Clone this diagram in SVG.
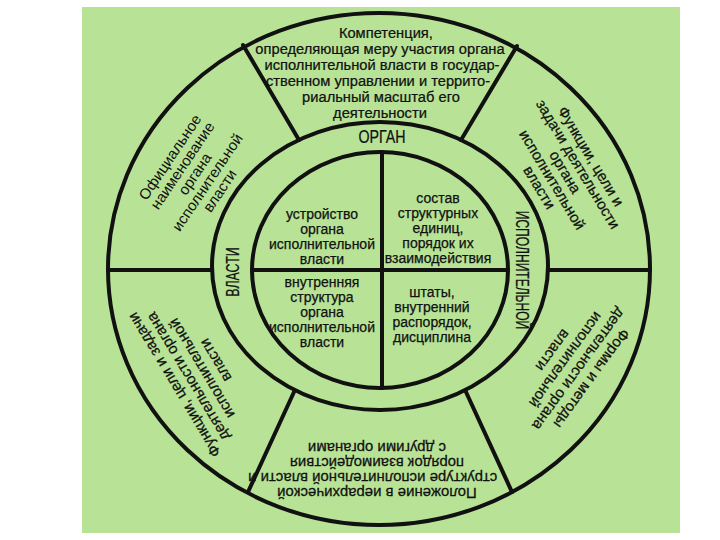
<svg xmlns="http://www.w3.org/2000/svg" width="720" height="540" viewBox="0 0 720 540">
<style>
.ln{fill:none;stroke:#111;stroke-width:4;stroke-linecap:round}
.n{font-family:'Liberation Sans',Arial,sans-serif;fill:#111;text-anchor:middle;stroke:#111;stroke-width:0.25}
.r{font-family:'Liberation Sans',Arial,sans-serif;fill:#111;text-anchor:middle}
</style>
<rect x="0" y="0" width="720" height="540" fill="#ffffff"/>
<rect x="82" y="7" width="598" height="526" fill="#b8e396"/>
<g id="rings">
<ellipse class="ln" cx="379" cy="269" rx="271" ry="256"/>
<ellipse class="ln" cx="380" cy="266" rx="168" ry="144"/>
<ellipse class="ln" cx="380" cy="270" rx="128" ry="118"/>
</g>
<g id="connectors">
<line class="ln" x1="243" y1="45" x2="299" y2="140"/>
<line class="ln" x1="517" y1="46" x2="461" y2="140"/>
<line class="ln" x1="108" y1="270" x2="212" y2="270"/>
<line class="ln" x1="548" y1="270" x2="650" y2="270"/>
<line class="ln" x1="294" y1="392" x2="248" y2="492"/>
<line class="ln" x1="466" y1="392" x2="512" y2="492"/>
<line class="ln" x1="382" y1="152" x2="382" y2="388"/>
<line class="ln" x1="252" y1="270" x2="508" y2="270"/>
</g>
<g id="competence" class="n" font-size="15" transform="translate(380,0) scale(0.98,1)">
<text x="6" y="38">Компетенция,</text>
<text x="0" y="54">определяющая меру участия органа</text>
<text x="2" y="70">исполнительной власти в государ-</text>
<text x="-2" y="86">ственном управлении и террито-</text>
<text x="1" y="102">риальный масштаб его</text>
<text x="0" y="118">деятельности</text>
</g>
<g id="official-name" class="r" font-size="15" transform="translate(195,174) rotate(-56)">
<text x="0" y="-25">Официальное</text>
<text x="0" y="-10">наименование</text>
<text x="0" y="5">органа</text>
<text x="0" y="20">исполнительной</text>
<text x="0" y="35">власти</text>
</g>
<g id="functions-top" class="n" font-size="15" transform="translate(565,172) rotate(59)">
<text x="0" y="-25">Функции, цели и</text>
<text x="0" y="-10">задачи деятельности</text>
<text x="0" y="5">органа</text>
<text x="0" y="20">исполнительной</text>
<text x="0" y="35">власти</text>
</g>
<g id="functions-bottom" class="n" font-size="15" transform="translate(194,373) rotate(-121)">
<text x="0" y="-18">Функции, цели и задачи</text>
<text x="0" y="-2">деятельности органа</text>
<text x="0" y="14">исполнительной</text>
<text x="0" y="30">власти</text>
</g>
<g id="forms" class="n" font-size="15" transform="translate(573,365) rotate(126)">
<text x="0" y="-18">Формы и методы</text>
<text x="0" y="-2">деятельности органа</text>
<text x="0" y="14">исполнительной</text>
<text x="0" y="30">власти</text>
</g>
<g id="position" class="n" font-size="14" transform="translate(377,470) rotate(180) scale(1.07,1)">
<text x="0" y="-18">Положение в иерархической</text>
<text x="4" y="-3">структуре исполнительной власти и</text>
<text x="0" y="12">порядок взаимодействия</text>
<text x="0" y="27">с другими органами</text>
</g>
<g id="ring-labels" class="n" font-size="18">
<text x="0" y="0" transform="translate(382,137) scale(0.79,1)" dy="6">ОРГАН</text>
<text x="0" y="0" transform="translate(522,270) rotate(90) scale(0.67,1)" dy="6">ИСПОЛНИТЕЛЬНОЙ</text>
<text x="0" y="0" transform="translate(233,272) rotate(-90) scale(0.69,1)" dy="6">ВЛАСТИ</text>
</g>
<g id="q-device" class="n" font-size="14">
<text x="322" y="219">устройство</text>
<text x="322" y="234">органа</text>
<text x="322" y="249">исполнительной</text>
<text x="322" y="264">власти</text>
</g>
<g id="q-composition" class="n" font-size="14">
<text x="438" y="203">состав</text>
<text x="438" y="218">структурных</text>
<text x="438" y="233">единиц,</text>
<text x="438" y="248">порядок их</text>
<text x="438" y="263">взаимодействия</text>
</g>
<g id="q-internal" class="n" font-size="14">
<text x="322" y="287">внутренняя</text>
<text x="322" y="302">структура</text>
<text x="322" y="317">органа</text>
<text x="322" y="332">исполнительной</text>
<text x="322" y="347">власти</text>
</g>
<g id="q-staff" class="n" font-size="14">
<text x="432" y="297">штаты,</text>
<text x="432" y="312">внутренний</text>
<text x="432" y="327">распорядок,</text>
<text x="432" y="342">дисциплина</text>
</g>
</svg>
